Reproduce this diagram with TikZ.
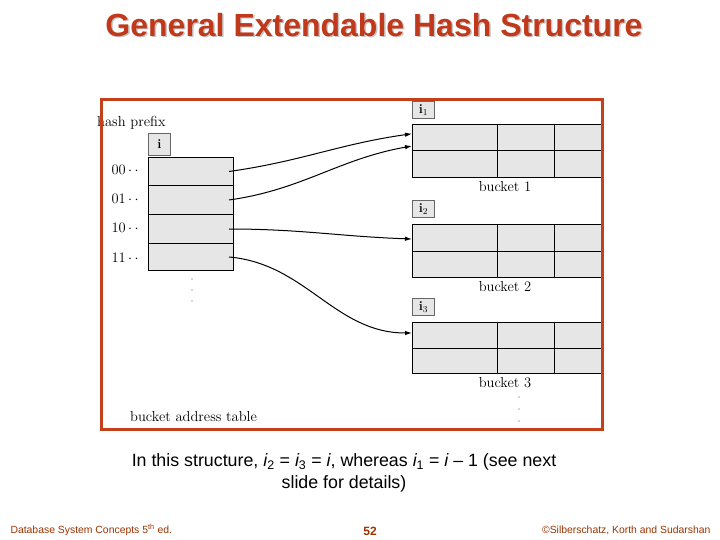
\documentclass[tikz,border=0pt]{standalone}
\usepackage{fontspec}
\newfontfamily\arial{Liberation Sans}
\usetikzlibrary{arrows.meta}
\definecolor{framecol}{HTML}{C2411B}
\definecolor{titlecol}{HTML}{C0391B}
\definecolor{footcol}{HTML}{993300}
\definecolor{cellfill}{HTML}{E6E6E6}
\tikzset{
  cell/.style={draw=black, fill=cellfill, line width=1pt, anchor=north west, inner sep=0pt},
  ibox/.style={draw=gray!80!black, fill=cellfill, line width=0.9pt, anchor=north west, inner sep=0pt,
    minimum width=22pt, minimum height=17pt, font=\fontsize{13}{13}\selectfont},
  serif/.style={font=\fontsize{14.5}{14.5}\selectfont},
  ptr/.style={line width=1pt, -{Latex[length=7pt,width=4.5pt]}},
  dot/.style={fill=black!70, circle, inner sep=0pt, minimum size=1.3pt}
}
\begin{document}
\begin{tikzpicture}[x=1pt,y=-1pt]
\useasboundingbox (0,0) rectangle (720,540);
% title with shadow
\node[font=\arial\bfseries\fontsize{32}{34}\selectfont, text=gray!45] (titleshadow) at (375.5,26.5) {General Extendable Hash Structure};
\node[font=\arial\bfseries\fontsize{32}{34}\selectfont, text=titlecol] (title) at (374,25) {General Extendable Hash Structure};

% hash prefix
\node[serif, anchor=base west, inner sep=0pt] (hp) at (97,127) {hash prefix};
\node[ibox, minimum width=22pt, minimum height=22pt, font=\bfseries\fontsize{13}{13}\selectfont] (ibig) at (148,133) {i};

% address table
\node[cell, minimum width=85pt, minimum height=28pt] (r0) at (148,157) {};
\node[cell, minimum width=85pt, minimum height=29pt] (r1) at (148,185) {};
\node[cell, minimum width=85pt, minimum height=29pt] (r2) at (148,214) {};
\node[cell, minimum width=85pt, minimum height=27pt] (r3) at (148,243) {};
\node[serif, anchor=west] (l0) at (108,170) {00\,$\cdot\,\cdot$};
\node[serif, anchor=west] (l1) at (108,199) {01\,$\cdot\,\cdot$};
\node[serif, anchor=west] (l2) at (108,228) {10\,$\cdot\,\cdot$};
\node[serif, anchor=west] (l3) at (108,258) {11\,$\cdot\,\cdot$};
\node[dot] (td1) at (192,279) {};
\node[dot] (td2) at (192,290) {};
\node[dot] (td3) at (192,301) {};
\node[serif, anchor=base west, inner sep=0pt] (bat) at (130,421) {bucket address table};

% buckets
\foreach \n/\t/\h in {1/124/26.5, 2/224/26.5, 3/322/25.5}{
  \node[cell, minimum width=189pt, minimum height=\h pt] (b\n top) at (412,\t) {};
  \node[cell, minimum width=189pt, minimum height=\h pt] (b\n bot) at (412,\t+\h) {};
  \draw[line width=1pt] (497,\t) -- (497,\t+2*\h);
  \draw[line width=1pt] (554,\t) -- (554,\t+2*\h);
}
\node[ibox] (i1) at (412,101) {\textbf{i}\textsubscript{1}};
\node[ibox] (i2) at (412,200) {\textbf{i}\textsubscript{2}};
\node[ibox] (i3) at (412,298) {\textbf{i}\textsubscript{3}};
\node[serif] (bl1) at (505,187) {bucket 1};
\node[serif] (bl2) at (505,287) {bucket 2};
\node[serif] (bl3) at (505,383) {bucket 3};
\node[dot] (bd1) at (519,397) {};
\node[dot] (bd2) at (519,409) {};
\node[dot] (bd3) at (519,421) {};

% pointers
\coordinate (s0) at ([xshift=-5pt]r0.east);
\coordinate (s1) at ([xshift=-5pt]r1.east);
\coordinate (s2) at ([xshift=-5pt]r2.east);
\coordinate (s3) at ([xshift=-5pt]r3.east);
\draw[ptr] (s0) to[out=8, in=188] ([yshift=4pt]b1top.west);
\draw[ptr] (s1) to[out=8, in=190] ([yshift=5.5pt]b1top.south west);
\draw[ptr] (s2) to[out=0, in=178] ([yshift=-15pt]b2top.north west);
\draw[ptr] (s3) to[out=-5, in=180] ([yshift=-11pt]b3top.north west);

% frame
\draw[framecol, line width=3pt] (101.5,99.5) rectangle (602,429);

% caption
\node[font=\arial\fontsize{17.8}{22}\selectfont, align=center] (cap) at (344,473)
  {In this structure, {\itshape i}\textsubscript{2} = {\itshape i}\textsubscript{3} = {\itshape i}, whereas {\itshape i}\textsubscript{1} = {\itshape i} – 1 (see next\\slide for details)};

% footer
\node[font=\arial\fontsize{10.4}{11}\selectfont, text=footcol, anchor=west] (f1) at (7,530) {Database System Concepts 5\textsuperscript{th} ed.};
\node[font=\arial\bfseries\fontsize{12}{13}\selectfont, text=footcol] (f2) at (370,531) {52};
\node[font=\arial\fontsize{10.4}{11}\selectfont, text=footcol, anchor=east] (f3) at (714,530) {©Silberschatz, Korth and Sudarshan};
\end{tikzpicture}
\end{document}
